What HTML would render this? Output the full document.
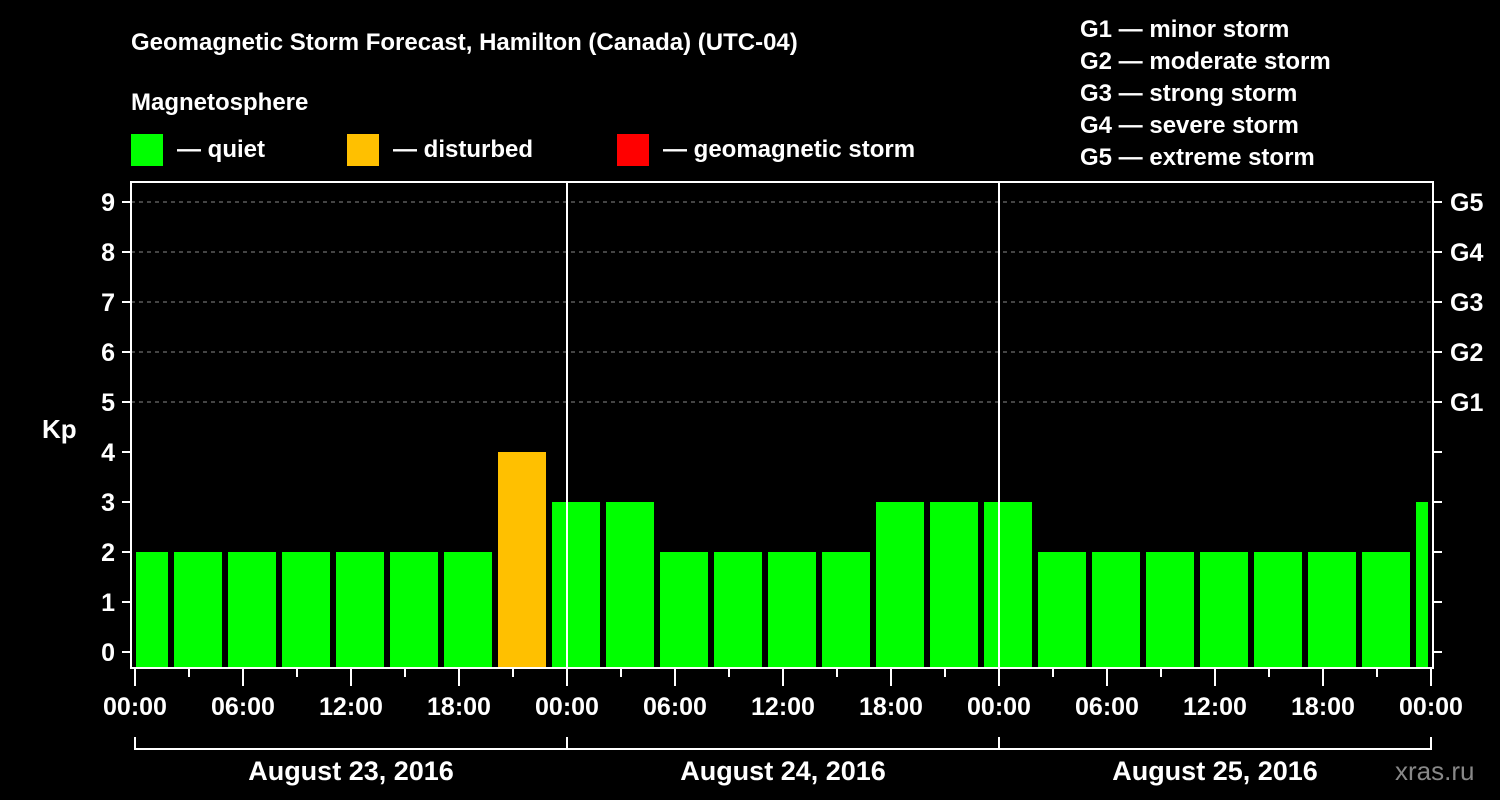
<!DOCTYPE html>
<html><head><meta charset="utf-8"><style>
body{margin:0;background:#000;}
svg{display:block;font-family:"Liberation Sans",sans-serif;font-weight:bold;}
</style></head><body>
<svg id="chart" width="1500" height="800" xmlns="http://www.w3.org/2000/svg">
<rect width="1500" height="800" fill="#000"/>
<text x="131" y="50" fill="#fff" font-size="24">Geomagnetic Storm Forecast, Hamilton (Canada) (UTC-04)</text>
<text x="131" y="110" fill="#fff" font-size="24">Magnetosphere</text>
<g>
<rect x="131" y="134" width="32" height="32" fill="#00ff00"/>
<text x="177" y="157" fill="#fff" font-size="24">— quiet</text>
<rect x="347" y="134" width="32" height="32" fill="#ffc000"/>
<text x="393" y="157" fill="#fff" font-size="24">— disturbed</text>
<rect x="617" y="134" width="32" height="32" fill="#ff0000"/>
<text x="663" y="157" fill="#fff" font-size="24">— geomagnetic storm</text>
</g>
<g fill="#fff" font-size="24">
<text x="1080" y="37">G1 — minor storm</text>
<text x="1080" y="69">G2 — moderate storm</text>
<text x="1080" y="101">G3 — strong storm</text>
<text x="1080" y="133">G4 — severe storm</text>
<text x="1080" y="165">G5 — extreme storm</text>
</g>
<g id="grid"></g>
<g id="bars"></g>
<g id="axes"></g>
<text x="42" y="438" fill="#fff" font-size="26">Kp</text>
<text x="1395" y="780" fill="#888" font-size="26" font-weight="normal">xras.ru</text>
</svg>
<script>
const kpValues=[2,2,2,2,2,2,2,4,3,3,2,2,2,2,3,3,3,2,2,2,2,2,2,2,3];
const barStartHours=[-0.833];
const yTicks=[0,1,2,3,4,5,6,7,8,9];
const gLabels=['G1','G2','G3','G4','G5'];
const xTickLabels=['00:00','06:00','12:00','18:00','00:00','06:00','12:00','18:00','00:00','06:00','12:00','18:00','00:00'];
const dayLabels=['August 23, 2016','August 24, 2016','August 25, 2016'];
const NS='http://www.w3.org/2000/svg';
const L=131,R=1433,T=182,B=668,x0=135,pxH=18;
const X=h=>x0+h*pxH, Y=v=>652-v*50;
function mk(t,a,p){const e=document.createElementNS(NS,t);for(const k in a)e.setAttribute(k,a[k]);p.appendChild(e);return e;}
const grid=document.getElementById('grid'),bars=document.getElementById('bars'),axes=document.getElementById('axes');
yTicks.forEach(v=>{if(v>=5){const g=mk('line',{x1:L,x2:R,y1:Y(v),y2:Y(v),stroke:'#888','stroke-dasharray':'4,4','stroke-width':1},grid);}});
kpValues.forEach((v,i)=>{let x1=X(barStartHours[0]+i*3)+0,x2=x1+48;x1=Math.max(x1,136);x2=Math.min(x2,1428);
const c=v>=5?'#ff0000':(v>=4?'#ffc000':'#00ff00');
const r=mk('rect',{x:x1,y:Y(v),width:x2-x1,height:667-Y(v),fill:c},bars);
});
const fr=mk('rect',{x:L,y:T,width:R-L,height:B-T,fill:'none',stroke:'#fff','stroke-width':2},axes);

[24,48].forEach(h=>{const l=mk('line',{x1:X(h),x2:X(h),y1:T,y2:B,stroke:'#fff','stroke-width':2},axes);});
yTicks.forEach(v=>{mk('line',{x1:122,x2:L,y1:Y(v),y2:Y(v),stroke:'#fff','stroke-width':2},axes);
const t=mk('text',{x:115,y:Y(v)+9,fill:'#fff','font-size':25,'text-anchor':'end'},axes);t.textContent=v;

mk('line',{x1:R,x2:1442,y1:Y(v),y2:Y(v),stroke:'#fff','stroke-width':2},axes);
if(v>=5){const g=mk('text',{x:1450,y:Y(v)+9,fill:'#fff','font-size':25},axes);g.textContent=gLabels[v-5];
}});
for(let h=0;h<=72;h+=3){const maj=h%6==0;mk('line',{x1:X(h),x2:X(h),y1:B,y2:maj?686:677,stroke:'#fff','stroke-width':2},axes);}
xTickLabels.forEach((s,i)=>{const t=mk('text',{x:X(i*6),y:715,fill:'#fff','font-size':25,'text-anchor':'middle'},axes);t.textContent=s;
});
mk('path',{d:`M${X(0)},737V749H${X(72)}V737M${X(24)},737V749M${X(48)},737V749`,stroke:'#fff','stroke-width':2,fill:'none'},axes);
dayLabels.forEach((s,i)=>{const t=mk('text',{x:X(i*24+12),y:780,fill:'#fff','font-size':27,'text-anchor':'middle'},axes);t.textContent=s;
});
</script>
</body></html>
